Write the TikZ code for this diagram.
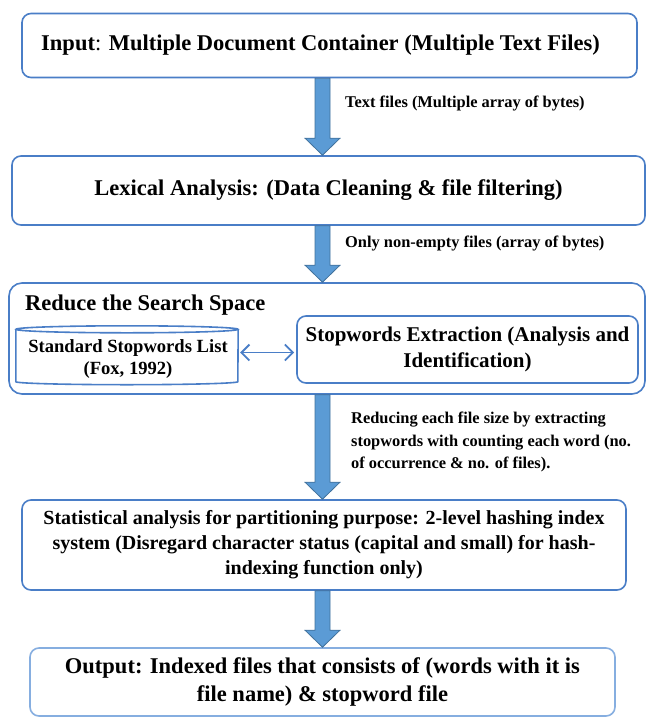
\documentclass[tikz,border=0pt]{standalone}
\usepackage{fontspec}
\setmainfont{Liberation Serif}
\usetikzlibrary{arrows.meta,calc}

\definecolor{boxblue}{HTML}{4A7EC7}
\definecolor{paleblue}{HTML}{86AEE0}
\definecolor{arrowfill}{HTML}{5B9BD5}
\definecolor{arrowedge}{HTML}{41719C}

\newcommand{\fsz}[2]{\fontsize{#1pt}{#2pt}\selectfont\bfseries}

\tikzset{
  stage/.style={draw=boxblue, line width=1.6pt, rounded corners=9pt, fill=white,
    align=center, inner sep=0pt, text=black},
  flowlabel/.style={anchor=west, align=left, inner sep=0pt, font=\fsz{16.4}{22.5}},
  blockarrow/.style={fill=arrowfill, draw=arrowedge, line width=0.8pt, line join=miter},
}

\begin{document}
\begin{tikzpicture}[x=1pt, y=-1pt]
\useasboundingbox (0,0) rectangle (653,718);

% column of the block arrows
\coordinate (axis) at (322.5,0);

\node[stage, minimum width=615pt, minimum height=64pt, font=\fsz{22.5}{26}]
  (input) at (329.5,45.5) {Input{\mdseries:} Multiple Document Container (Multiple Text Files)\kern18pt};

\node[stage, minimum width=633pt, minimum height=69pt, font=\fsz{22.5}{26}]
  (lex) at (328.5,190.5) {Lexical Analysis: (Data Cleaning \& file filtering)};

\node[stage, minimum width=636pt, minimum height=111pt, rounded corners=13pt]
  (reduce) at (327,338.5) {};
\node[anchor=west, inner sep=0pt, font=\fsz{22.5}{26}] (reducetitle) at (25,305)
  {Reduce the Search Space};

% stopword list drawn as a flat cylinder
\node[minimum width=222pt, minimum height=55pt, inner sep=0pt] (stoplist) at (127,357) {};
\draw[boxblue, line width=1.6pt]
  (stoplist.north west) -- ($(stoplist.south west)+(0,-3)$)
  arc[start angle=180, end angle=360, x radius=111pt, y radius=3pt]
  -- (stoplist.north east);
\draw[boxblue, line width=1.6pt] (stoplist.north)
  ellipse[x radius=111pt, y radius=3.5pt];
\node[inner sep=0pt, align=center, font=\fsz{18.6}{22}] (stoptext)
  at ($(stoplist.center)+(1,2)$) {Standard Stopwords List\\(Fox, 1992)};

\node[stage, minimum width=341pt, minimum height=67pt, font=\fsz{21}{26}]
  (extract) at (467.5,349.5) {Stopwords Extraction (Analysis and\\Identification)};

\draw[boxblue, line width=1.8pt, {Straight Barb[length=8pt,width=16pt]}-{Straight Barb[length=8pt,width=16pt]}]
  ($(stoplist.east)+(2,-4.5)$) -- ($(extract.west)+(-2,3)$);

\node[stage, minimum width=604pt, minimum height=90pt, font=\fsz{20}{25}]
  (stats) at (324,545)
  {Statistical analysis for partitioning purpose: 2-level hashing index\\
   system (Disregard character status (capital and small) for hash-\\
   indexing function only)};

\node[stage, draw=paleblue, minimum width=585pt, minimum height=68pt, font=\fsz{22.5}{28}]
  (output) at (322.5,682)
  {Output: Indexed files that consists of (words with it is\\file name) \& stopword file};

% block arrows between consecutive stages
\foreach \a/\b in {input/lex, lex/reduce, reduce/stats, stats/output}{
  \path[blockarrow] let \p1=(axis |- \a.south), \p2=(axis |- \b.north) in
    (\x1-7.5,\y1) -- (\x1+7.5,\y1) -- (\x1+7.5,\y2+17) -- (\x1+17.5,\y2+17)
    -- (\x1,\y2) -- (\x1-17.5,\y2+17) -- (\x1-7.5,\y2+17) -- cycle;
}

\node[flowlabel] (lab1) at (345,103) {Text files (Multiple array of bytes)};
\node[flowlabel] (lab2) at (345,243) {Only non-empty files (array of bytes)};
\node[flowlabel] (lab3) at (351,442)
  {Reducing each file size by extracting\\
   stopwords with counting each word (no.\\
   of occurrence \& no. of files).};
\end{tikzpicture}
\end{document}
